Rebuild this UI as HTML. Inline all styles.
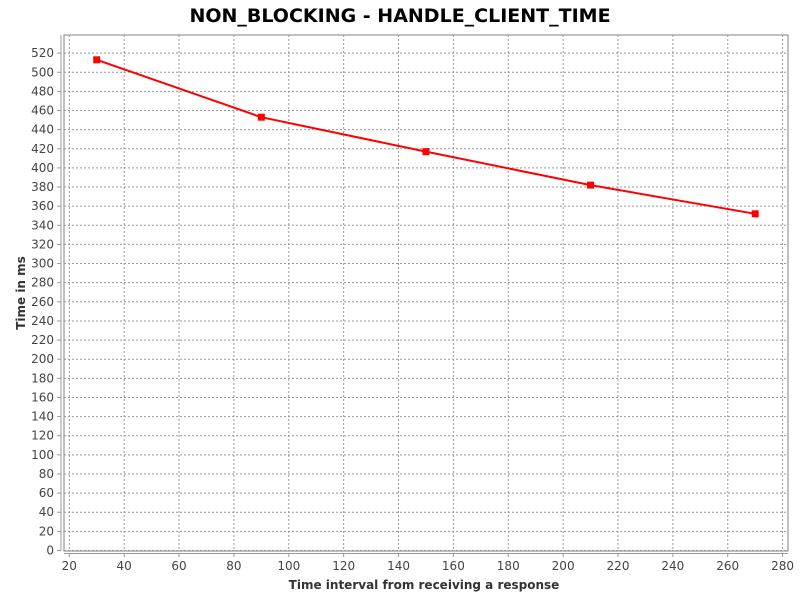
<!DOCTYPE html>
<html><head><meta charset="utf-8"><style>
body{margin:0;background:#fff;}
svg{display:block;font-family:"DejaVu Sans","Liberation Sans",sans-serif;}
</style></head><body>
<svg id="chart" width="800" height="600">
<rect width="800" height="600" fill="#fff"/>
<text x="400" y="22" text-anchor="middle" font-size="19" font-weight="bold" fill="#000">NON_BLOCKING - HANDLE_CLIENT_TIME</text>
<g id="grid"></g><g id="axes"></g><g id="series"></g>
<text x="424" y="589" text-anchor="middle" font-size="12" font-weight="bold" fill="#333">Time interval from receiving a response</text>
<text transform="translate(25,293) rotate(-90)" text-anchor="middle" font-size="12" font-weight="bold" fill="#333">Time in ms</text>
</svg>
<script>
const xValues=[30,90,150,210,270];
const yValues=[513,453,417,382,352];
const xTicks=[20,40,60,80,100,120,140,160,180,200,220,240,260,280];
const yTicks=[0,20,40,60,80,100,120,140,160,180,200,220,240,260,280,300,320,340,360,380,400,420,440,460,480,500,520];
const L=64,R=788,T=35,B=551;
const xs=v=>69.3+(v-20)*54.87/20;
const ys=v=>550.5-v*19.13/20;
const NS="http://www.w3.org/2000/svg";
function mk(tag,attrs,parent){const e=document.createElementNS(NS,tag);for(const k in attrs)e.setAttribute(k,attrs[k]);parent.appendChild(e);return e;}
const grid=document.getElementById('grid'),axes=document.getElementById('axes'),ser=document.getElementById('series');
const box=mk('rect',{x:L,y:T,width:R-L,height:B-T,fill:'#fff',stroke:'#808080','stroke-width':1},grid);


xTicks.forEach(t=>{const x=xs(t);
 const g=mk('line',{x1:x,x2:x,y1:T,y2:B,stroke:'#999','stroke-dasharray':'2,2','stroke-width':1},grid);
 
 
 mk('line',{x1:x,x2:x,y1:553,y2:557,stroke:'#999'},axes);
 const tx=mk('text',{x:x,y:570,'text-anchor':'middle','font-size':12,fill:'#444'},axes);tx.textContent=t;
 
 
});
yTicks.forEach(t=>{const y=ys(t);
 const g=mk('line',{x1:L,x2:R,y1:y,y2:y,stroke:'#999','stroke-dasharray':'2,2','stroke-width':1},grid);
 
 
 mk('line',{x1:57,x2:61,y1:y,y2:y,stroke:'#999'},axes);
 const tx=mk('text',{x:54,y:y+4,'text-anchor':'end','font-size':12,fill:'#444'},axes);tx.textContent=t;
 
 
});
mk('line',{x1:61,x2:61,y1:T,y2:B,stroke:'#999'},axes);
mk('line',{x1:L,x2:R,y1:553.5,y2:553.5,stroke:'#999'},axes);
const pts=xValues.map((v,i)=>xs(v)+','+ys(yValues[i])).join(' ');
const pl=mk('polyline',{points:pts,fill:'none',stroke:'#f00','stroke-width':2},ser);


xValues.forEach((v,i)=>{
 const r=mk('rect',{x:xs(v)-3.5,y:ys(yValues[i])-3.5,width:7,height:7,fill:'#f00'},ser);
 
 
});
</script>
</body></html>
